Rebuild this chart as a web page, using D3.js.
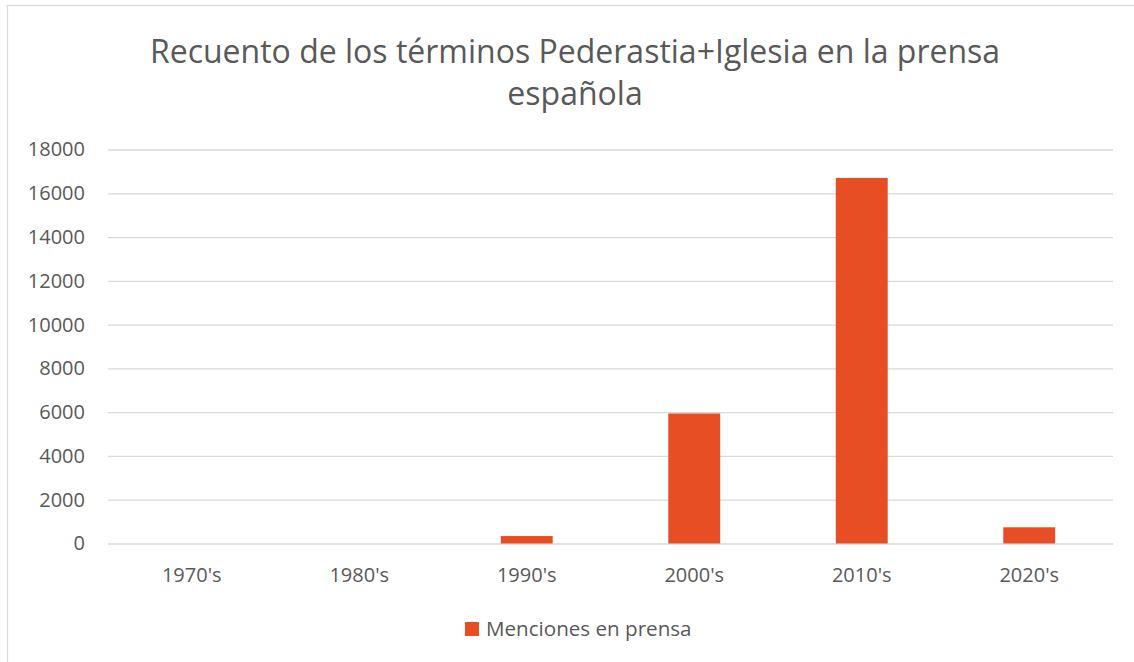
<!DOCTYPE html>
<html>
<head>
<meta charset="utf-8">
<script src="https://cdn.jsdelivr.net/npm/d3@7"></script>
<style>
  body { margin: 0; background: #fff; }
  svg { display: block; }
  text { font-family: "Open Sans", "Noto Sans", sans-serif; fill: #595959; }
</style>
</head>
<body>
<div id="chart"></div>
<script>
const decades = ["1970's", "1980's", "1990's", "2000's", "2010's", "2020's"];
const menciones = [0, 0, 340, 5940, 16700, 740];
const yTicks = [0, 2000, 4000, 6000, 8000, 10000, 12000, 14000, 16000, 18000];
const titleLines = ["Recuento de los términos Pederastia+Iglesia en la prensa", "española"];
const seriesName = "Menciones en prensa";

const width = 1134, height = 662;
const plot = { left: 108, right: 1113, top: 149.5, bottom: 543.5 };
const color = "#e84e23";

const svg = d3.select('#chart').append('svg')
	.attr('width', width)
	.attr('height', height);

// chart frame (runs off the right and bottom edges)
svg.append('rect')
	.attr('x', 7.5).attr('y', 5.5)
	.attr('width', 1160).attr('height', 700)
	.attr('fill', '#fff')
	.attr('stroke', '#d9d9d9')
	.attr('stroke-width', 1.3);

const x = d3.scaleBand()
	.domain(decades)
	.range([plot.left, plot.right])
	.paddingInner(0.69)
	.paddingOuter(0.345);

const y = d3.scaleLinear()
	.domain([0, 18000])
	.range([plot.bottom, plot.top]);

// gridlines + y labels
const yAxis = svg.append('g')
	.attr('transform', `translate(${plot.left},0)`)
	.call(d3.axisLeft(y)
		.tickValues(yTicks)
		.tickSize(-(plot.right - plot.left))
		.tickPadding(23)
		.tickFormat(d3.format('d')));
yAxis.select('.domain').remove();
yAxis.selectAll('line').attr('stroke', '#d9d9d9').attr('stroke-width', 1.3);
yAxis.selectAll('text').attr('font-size', 20).style('fill', '#595959');

// bars
svg.append('g').selectAll('rect')
	.data(decades.map((d, i) => ({ decade: d, value: menciones[i] })))
	.join('rect')
	.attr('x', d => x(d.decade))
	.attr('width', x.bandwidth())
	.attr('y', d => y(d.value))
	.attr('height', d => y(0) - y(d.value))
	.attr('fill', color);

// x labels
const xAxis = svg.append('g')
	.attr('transform', `translate(0,${plot.bottom})`)
	.call(d3.axisBottom(x).tickSize(0).tickPadding(24));
xAxis.select('.domain').remove();
xAxis.selectAll('text').attr('font-size', 20).style('fill', '#595959');

// title
const title = svg.append('text')
	.attr('text-anchor', 'middle')
	.attr('font-size', 32);
title.selectAll('tspan')
	.data(titleLines)
	.join('tspan')
	.attr('x', 575)
	.attr('y', (d, i) => 63 + i * 42)
	.text(d => d);

// legend
const legend = svg.append('g');
legend.append('rect')
	.attr('x', 465).attr('y', 622)
	.attr('width', 14).attr('height', 14)
	.attr('fill', color);
legend.append('text')
	.attr('x', 486).attr('y', 636)
	.attr('font-size', 20.6)
	.text(seriesName);
</script>
</body>
</html>
